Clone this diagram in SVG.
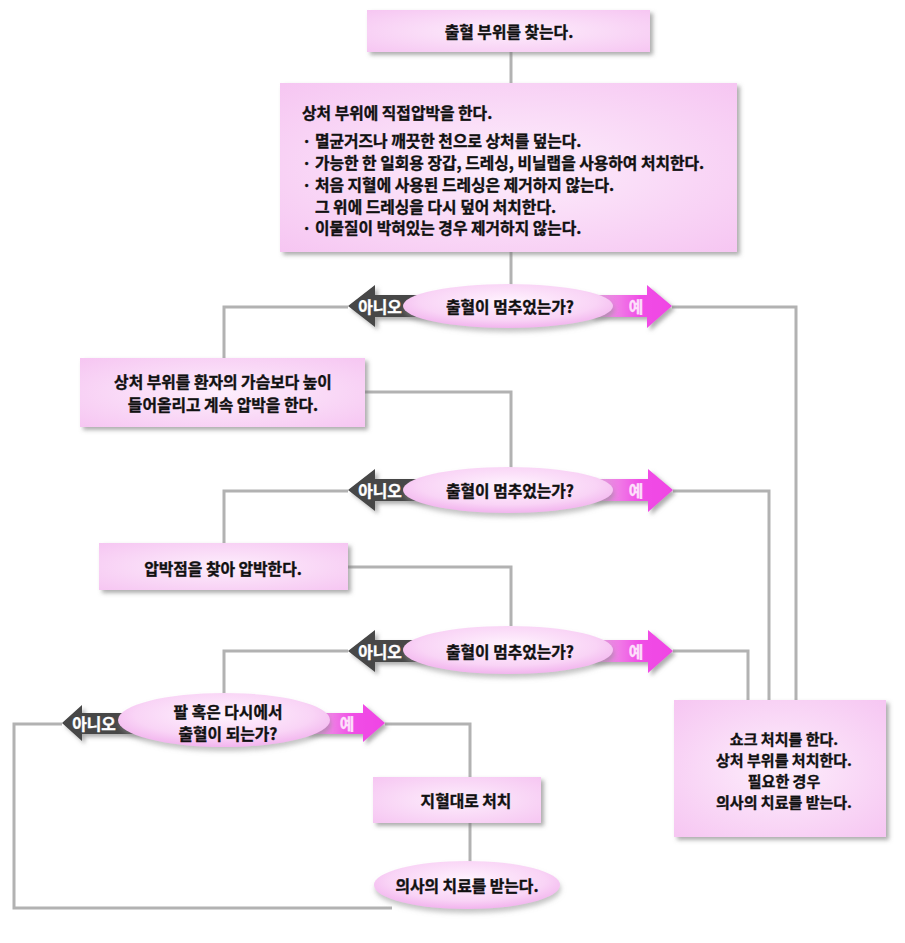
<svg xmlns="http://www.w3.org/2000/svg" width="905" height="943" viewBox="0 0 905 943">
<style>
text{font-family:"Noto Sans CJK KR","Noto Sans",sans-serif;font-size:15.8px;font-weight:bold;fill:#111;stroke:#111;stroke-width:0.35;dominant-baseline:central}
.c{text-anchor:middle}
.s{font-size:15px}
.w{fill:#fff;stroke:#fff}
.y{fill:#fde0fb;stroke:#fde0fb}
.box{fill:url(#boxg);filter:url(#sh)}
.ell{fill:url(#ellg);filter:url(#sh2)}
.no{fill:#464646;filter:url(#sh)}
.yes{fill:url(#yesg);filter:url(#sh)}
.con{fill:none;stroke:#b2b2b2;stroke-width:3}
</style>
<defs>
<radialGradient id="boxg" cx="0.5" cy="0.5" r="0.7">
<stop offset="0" stop-color="#fdeefc"/>
<stop offset="1" stop-color="#f6c6f2"/>
</radialGradient>
<radialGradient id="ellg" cx="0.5" cy="0.4" r="0.6">
<stop offset="0" stop-color="#fff4fe"/>
<stop offset="0.7" stop-color="#f9d4f6"/>
<stop offset="1" stop-color="#f2b4ee"/>
</radialGradient>
<linearGradient id="yesg" x1="0" y1="0" x2="1" y2="0">
<stop offset="0" stop-color="#d9a8d6"/>
<stop offset="0.35" stop-color="#f07ae6"/>
<stop offset="0.6" stop-color="#f04ee6"/>
<stop offset="1" stop-color="#f044e4"/>
</linearGradient>
<filter id="sh" x="-10%" y="-10%" width="130%" height="140%">
<feDropShadow dx="3" dy="3" stdDeviation="2" flood-color="#777" flood-opacity="0.6"/>
</filter>
<filter id="sh2" x="-10%" y="-10%" width="130%" height="150%">
<feDropShadow dx="1" dy="4" stdDeviation="2.5" flood-color="#888" flood-opacity="0.5"/>
</filter>
</defs>

<g id="connectors">
<path class="con" d="M511,52 V83"/>
<path class="con" d="M511,252 V285"/>
<path class="con" d="M672,307 H796 V700"/>
<path class="con" d="M348,307 H224 V358"/>
<path class="con" d="M365,392 H511 V468"/>
<path class="con" d="M673,491 H769 V700"/>
<path class="con" d="M348,491 H224 V543"/>
<path class="con" d="M348,567 H511 V626"/>
<path class="con" d="M673,651 H748 V700"/>
<path class="con" d="M348,651 H224 V694"/>
<path class="con" d="M385,724 H470 V777"/>
<path class="con" d="M62,724 H14 V908 H392"/>
<path class="con" d="M470,823 V862"/>
</g>

<g id="n-start">
<rect class="box" x="367" y="10" width="283" height="42"/>
<text class="c" x="509" y="31">출혈 부위를 찾는다.</text>
</g>

<g id="n-pressure">
<rect class="box" x="280" y="83" width="457" height="169"/>
<text x="302" y="112">상처 부위에 직접압박을 한다.</text>
<text x="302" y="140">· 멸균거즈나 깨끗한 천으로 상처를 덮는다.</text>
<text x="302" y="162">· 가능한 한 일회용 장갑, 드레싱, 비닐랩을 사용하여 처치한다.</text>
<text x="302" y="184">· 처음 지혈에 사용된 드레싱은 제거하지 않는다.</text>
<text x="315" y="206">그 위에 드레싱을 다시 덮어 처치한다.</text>
<text x="302" y="227">· 이물질이 박혀있는 경우 제거하지 않는다.</text>
</g>

<g id="d1">
<path class="no" d="M348,306 L375,285 V295 H440 V317 H375 V327 Z"/>
<path class="yes" d="M590,295 H647 V285 L672,306 L647,328 V317 H590 Z"/>
<ellipse class="ell" cx="508" cy="306" rx="105" ry="22"/>
<text class="c w" x="380" y="306">아니오</text>
<text class="c y" x="636" y="306">예</text>
<text class="c" x="510" y="306">출혈이 멈추었는가?</text>
</g>

<g id="n-elevate">
<rect class="box" x="80" y="358" width="285" height="69"/>
<text class="c" x="223" y="381">상처 부위를 환자의 가슴보다 높이</text>
<text class="c" x="223" y="404">들어올리고 계속 압박을 한다.</text>
</g>

<g id="d2">
<path class="no" d="M348,490 L375,469 V479 H440 V501 H375 V511 Z"/>
<path class="yes" d="M590,479 H648 V469 L673,490 L648,512 V501 H590 Z"/>
<ellipse class="ell" cx="508" cy="490" rx="105" ry="23"/>
<text class="c w" x="380" y="490">아니오</text>
<text class="c y" x="636" y="490">예</text>
<text class="c" x="510" y="490">출혈이 멈추었는가?</text>
</g>

<g id="n-point">
<rect class="box" x="99" y="543" width="249" height="47"/>
<text class="c" x="223" y="568">압박점을 찾아 압박한다.</text>
</g>

<g id="d3">
<path class="no" d="M348,651 L375,630 V640 H440 V662 H375 V672 Z"/>
<path class="yes" d="M590,640 H648 V630 L673,651 L648,673 V662 H590 Z"/>
<ellipse class="ell" cx="508" cy="650" rx="105" ry="24"/>
<text class="c w" x="380" y="651">아니오</text>
<text class="c y" x="636" y="651">예</text>
<text class="c" x="510" y="651">출혈이 멈추었는가?</text>
</g>

<g id="d4">
<path class="no" d="M62,723 L82,705 V713 H160 V734 H82 V741 Z"/>
<path class="yes" d="M305,713 H363 V704 L385,723 L363,742 V734 H305 Z"/>
<ellipse class="ell" cx="224" cy="720" rx="106" ry="27"/>
<text class="c w" x="94" y="723">아니오</text>
<text class="c y" x="347" y="723">예</text>
<text class="c" x="228" y="711">팔 혹은 다시에서</text>
<text class="c" x="228" y="733">출혈이 되는가?</text>
</g>

<g id="n-shock">
<rect class="box" x="674" y="700" width="212" height="137"/>
<text class="c s" x="784" y="738">쇼크 처치를 한다.</text>
<text class="c s" x="784" y="759">상처 부위를 처치한다.</text>
<text class="c s" x="784" y="780">필요한 경우</text>
<text class="c s" x="784" y="801">의사의 치료를 받는다.</text>
</g>

<g id="n-tourniquet">
<rect class="box" x="373" y="777" width="168" height="46"/>
<text class="c" x="466" y="800">지혈대로 처치</text>
</g>

<g id="n-doctor">
<ellipse class="ell" cx="467" cy="885" rx="93" ry="24"/>
<text class="c" x="467" y="885">의사의 치료를 받는다.</text>
</g>
</svg>
